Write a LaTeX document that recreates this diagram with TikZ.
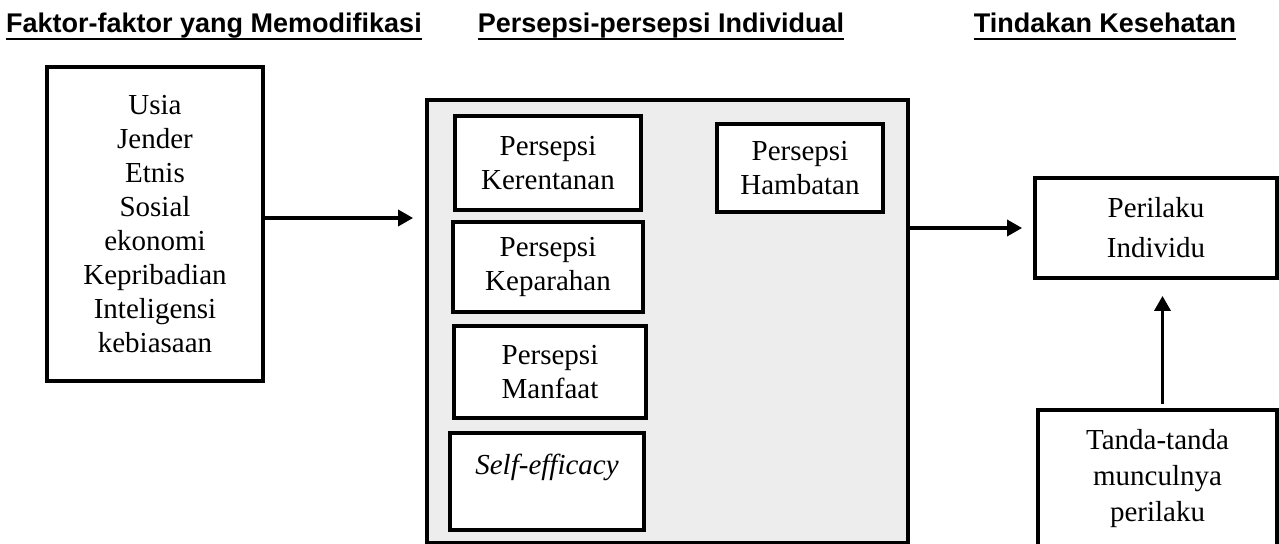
\documentclass[tikz,border=0pt]{standalone}
\usepackage{fontspec}
\setmainfont{Liberation Serif}
\setsansfont{Liberation Sans}
\usepackage{tikz}
\usetikzlibrary{arrows.meta,positioning,calc}
\definecolor{panelgrey}{HTML}{EDEDED}

\begin{document}
\begin{tikzpicture}[
    x=0.5pt, y=-0.5pt,
    head/.style={anchor=base, inner sep=0pt, font=\fontsize{13.5}{15}\selectfont\sffamily\bfseries},
    hline/.style={line width=1.4pt},
    box/.style={rectangle, draw=black, fill=white, line width=1.9pt, align=center, inner sep=2pt, font=\fontsize{14.5}{17}\selectfont},
    panel/.style={rectangle, draw=black, fill=panelgrey, line width=1.9pt, minimum width=240.5pt, minimum height=221.5pt},
    arrow/.style={-{Triangle[length=7.5pt,width=8pt]}, line width=1.7pt}
]
  \useasboundingbox (0,0) rectangle (1279,544);

  % column titles
  \node[head] (t1) at (214,33) {Faktor-faktor yang Memodifikasi};
  \node[head] (t2) at (661,33) {Persepsi-persepsi Individual};
  \node[head] (t3) at (1105,33) {Tindakan Kesehatan};
  \draw[hline] ([yshift=-3pt]t1.base west) -- ([yshift=-3pt]t1.base east);
  \draw[hline] ([yshift=-3pt]t2.base west) -- ([yshift=-3pt]t2.base east);
  \draw[hline] ([yshift=-3pt]t3.base west) -- ([yshift=-3pt]t3.base east);

  % modifying factors
  \node[box, minimum width=108pt, minimum height=157pt] (faktor) at (155,224) {Usia\\Jender\\Etnis\\Sosial\\ekonomi\\Kepribadian\\Inteligensi\\kebiasaan};

  % individual perceptions
  \node[panel] (persepsi) at (667.5,321.5) {};
  \node[box, minimum width=93pt, minimum height=47pt] (kerentanan) at (548,163) {Persepsi\\Kerentanan};
  \node[box, minimum width=95pt, minimum height=45pt] (keparahan) at (548,267) {Persepsi\\Keparahan};
  \node[box, minimum width=96pt, minimum height=46pt] (manfaat) at (550,372) {Persepsi\\Manfaat};
  \node[box, minimum width=97pt, minimum height=48.5pt] (efficacy) at (547,481.5) {\textit{Self-efficacy}\\~};
  \node[box, minimum width=83pt, minimum height=44pt] (hambatan) at (800,168) {Persepsi\\Hambatan};

  % health action
  \node[box, minimum width=121pt, minimum height=50pt, font=\fontsize{14.5}{20}\selectfont] (perilaku) at (1156,228) {Perilaku\\Individu};
  \node[box, minimum width=119.5pt, minimum height=69pt, font=\fontsize{14.5}{18}\selectfont] (tanda) at (1157.5,479) {Tanda-tanda\\munculnya\\perilaku};

  \draw[arrow, shorten >=6pt] ([yshift=3pt]faktor.east) -- ([yshift=3pt]faktor.east -| persepsi.west);
  \draw[arrow, shorten >=5.5pt] (perilaku.west -| persepsi.east) -- (perilaku.west);
  \draw[arrow, shorten <=2pt, shorten >=8pt] ([xshift=2.5pt]tanda.north) -- ([xshift=2.5pt]tanda.north |- perilaku.south);
\end{tikzpicture}
\end{document}
